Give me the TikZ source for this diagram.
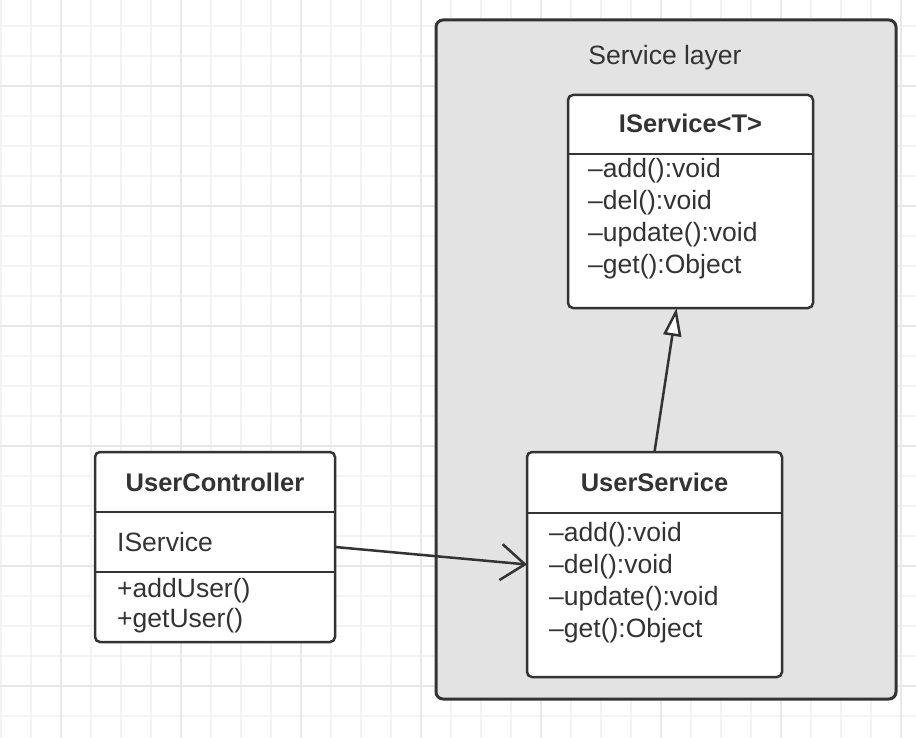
\documentclass[tikz,border=0pt]{standalone}
\usepackage{fontspec}
\setmainfont{Liberation Sans}
\usetikzlibrary{arrows.meta}
\definecolor{ink}{HTML}{333333}
\definecolor{gridminor}{HTML}{F3F3F3}
\definecolor{gridmajor}{HTML}{E8E8E8}
\definecolor{layerfill}{HTML}{E3E3E3}
\begin{document}
\begin{tikzpicture}[x=1pt,y=-1pt,
  gridline/.style={gridminor,line width=1.2pt},
  gridbold/.style={gridmajor,line width=1.4pt},
  layerbox/.style={draw=ink,fill=layerfill,line width=3pt,rounded corners=7pt,
    anchor=north west,inner sep=0pt,outer sep=0pt},
  classbox/.style={draw=ink,fill=white,line width=2.5pt,rounded corners=5pt,
    anchor=north west,inner sep=0pt,outer sep=0pt},
  sepline/.style={ink,line width=2.5pt},
  member/.style={text=ink,inner sep=0pt,anchor=base west,
    font=\fontsize{26.5}{30}\selectfont},
  classtitle/.style={text=ink,inner sep=0pt,anchor=base,
    font=\fontsize{25.5}{30}\selectfont\bfseries},
  layertitle/.style={text=ink,inner sep=0pt,anchor=base,
    font=\fontsize{26.5}{30}\selectfont},
  uses/.style={ink,line width=2.5pt,
    -{Straight Barb[length=24pt,width=36pt,line width=2.5pt]}},
  realizes/.style={ink,line width=2.5pt,
    -{Triangle[length=28pt,width=18pt,fill=white,line width=2.5pt]}}]

% page and background grid
\fill[white] (0,0) rectangle (916,738);
\useasboundingbox (0,0) rectangle (916,738);
\foreach \x in {1,31,...,901} \draw[gridline] (\x,0) -- (\x,738);
\foreach \y in {26,56,...,716} \draw[gridline] (0,\y) -- (916,\y);
\foreach \x in {61,181,...,901} \draw[gridbold] (\x,0) -- (\x,738);
\foreach \y in {86,206,...,686} \draw[gridbold] (0,\y) -- (916,\y);

% service layer container
\node[layerbox,minimum width=460pt,minimum height=679pt] (layer) at (436,20) {};
\node[layertitle] (layerlabel) at (665,65) {Service layer};

% IService<T>
\node[classbox,minimum width=245pt,minimum height=213pt] (iserv) at (568,95) {};
\draw[sepline] ([yshift=-59pt]iserv.north west) -- ([yshift=-59pt]iserv.north east);
\node[classtitle] (iservtitle) at (690.5,133) {IService<T>};
\node[member] (iservadd) at (588,178) {–add():void};
\node[member] (iservdel) at (588,210) {–del():void};
\node[member] (iservupd) at (588,242) {–update():void};
\node[member] (iservget) at (588,273) {–get():Object};

% UserService
\node[classbox,minimum width=255pt,minimum height=225pt] (userv) at (527,452) {};
\draw[sepline] ([yshift=-61pt]userv.north west) -- ([yshift=-61pt]userv.north east);
\node[classtitle] (usertitle) at (654.5,491) {UserService};
\node[member] (useradd) at (549,541) {–add():void};
\node[member] (userdel) at (549,573) {–del():void};
\node[member] (userupd) at (549,605) {–update():void};
\node[member] (userget) at (549,637) {–get():Object};

% UserController
\node[classbox,minimum width=240pt,minimum height=190pt] (uctrl) at (95,452) {};
\draw[sepline] ([yshift=-60pt]uctrl.north west) -- ([yshift=-60pt]uctrl.north east);
\draw[sepline] ([yshift=-120pt]uctrl.north west) -- ([yshift=-120pt]uctrl.north east);
\node[classtitle] (uctrltitle) at (215,491) {UserController};
\node[member] (uctrlfield) at (117,551) {IService};
\node[member] (uctrladd) at (117,597) {+addUser()};
\node[member] (uctrlget) at (117,627) {+getUser()};

% relations
\draw[realizes] (userv.north) -- ([xshift=-14pt]iserv.south);
\draw[uses] (uctrl.east) -- (userv.west);
\end{tikzpicture}
\end{document}
